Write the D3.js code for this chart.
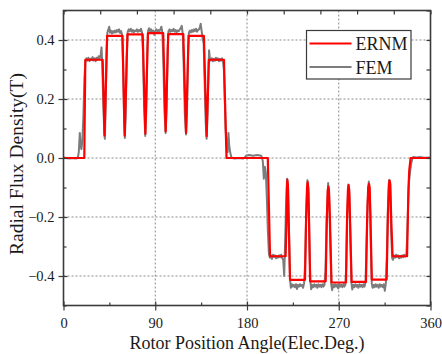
<!DOCTYPE html>
<html>
<head>
<meta charset="utf-8">
<script src="https://cdn.jsdelivr.net/npm/d3@7"></script>
<style>
    body { margin: 0; background: #fff; }
    svg { display: block; }
    text { font-family: "Liberation Serif", "Times New Roman", serif; fill: #1a1a1a; }
</style>
</head>
<body>
<svg id="chart" width="442" height="354"></svg>
<script>
var seriesNames = ['ERNM', 'FEM'];
var xMajorTicks = [0, 90, 180, 270, 360];
var xMinorTicks = [45, 135, 225, 315];
var xTopTicks = [0, 36, 72, 108, 144, 180, 216, 252, 288, 324, 360];
var yMajorTicks = [-0.4, -0.2, 0, 0.2, 0.4];
var yMinorTicks = [-0.5, -0.3, -0.1, 0.1, 0.3, 0.5];
var xTitle = 'Rotor Position Angle(Elec.Deg.)';
var yTitle = 'Radial Flux Density(T)';

// ERNM: [angle, B]
var ernmPoints = [
    [0, 0], [20.4, 0], [21.4, 0.333], [38.4, 0.333], [40.3, 0.076], [42.8, 0.414],
    [57.9, 0.414], [60.0, 0.076], [62.7, 0.419],
    [77.7, 0.419], [80.3, 0.082], [82.8, 0.423],
    [97.8, 0.423], [100.2, 0.09], [102.7, 0.42],
    [117.5, 0.42], [120.2, 0.085], [122.7, 0.414],
    [137.7, 0.414], [140.4, 0.074], [142.6, 0.333],
    [157.4, 0.333], [159.9, 0], [200.4, 0], [202.6, -0.333],
    [217.9, -0.333], [218.8, -0.2], [219.2, -0.1], [219.6, -0.074], [220.1, -0.09], [220.8, -0.2], [222.2, -0.413],
    [236.9, -0.413], [238.0, -0.2], [238.9, -0.1], [239.5, -0.082], [240.1, -0.1], [240.8, -0.2], [241.9, -0.418],
    [257.2, -0.418], [258.4, -0.2], [259.2, -0.11], [259.8, -0.097], [260.4, -0.11], [261.3, -0.2], [262.9, -0.422],
    [277.1, -0.422], [278.2, -0.2], [279.0, -0.11], [279.6, -0.092], [280.3, -0.11], [281.0, -0.2], [282.6, -0.42],
    [296.7, -0.42], [297.9, -0.2], [298.9, -0.1], [299.6, -0.088], [300.3, -0.1], [301.1, -0.2], [302.4, -0.412],
    [317.0, -0.412], [318.2, -0.2], [319.2, -0.09], [319.9, -0.076], [320.6, -0.09], [321.4, -0.2], [322.8, -0.333],
    [337.0, -0.333], [337.8, -0.2], [338.4, -0.1], [339.2, -0.04], [340.5, 0], [360, 0]
];

// FEM: [angle, B]
var femPoints = [
    [0, 0.002], [3, 0], [6, -0.002], [9, 0], [12, -0.002], [14, 0], [15, 0.02], [16, 0.085],
    [16.8, 0.04], [17.6, 0.03], [18.5, 0.06], [19.5, 0.14], [20.5, 0.27], [21.5, 0.325],
    [22.5, 0.338], [23.5, 0.33], [24.5, 0.34], [25.5, 0.328], [26.5, 0.336], [27.5, 0.332],
    [28.5, 0.342], [29.5, 0.33], [30.5, 0.338], [31.5, 0.328], [32.5, 0.34], [33.5, 0.333],
    [34.5, 0.345], [35.5, 0.338], [36.5, 0.35], [37.3, 0.375], [38, 0.32], [39, 0.19],
    [40, 0.08], [40.6, 0.065], [41.3, 0.17], [42.2, 0.36], [43, 0.425], [44, 0.435],
    [44.8, 0.445], [45.6, 0.425], [46.5, 0.432], [47.5, 0.422], [48.5, 0.43], [49.5, 0.425],
    [50.5, 0.432], [51.5, 0.426], [52.5, 0.434], [53.5, 0.428], [54.5, 0.436], [55.5, 0.424],
    [56.5, 0.43], [57.5, 0.418], [58.5, 0.3], [59.5, 0.12], [60.2, 0.068], [61, 0.14],
    [62, 0.34], [63, 0.428], [64, 0.436], [65, 0.43], [66, 0.438], [67, 0.428], [68, 0.434],
    [69, 0.426], [70, 0.432], [71, 0.43], [72, 0.436], [73, 0.428], [74, 0.434], [75, 0.43],
    [76, 0.438], [77, 0.425], [78, 0.36], [79, 0.18], [80.2, 0.075], [81.2, 0.16], [82.2, 0.36],
    [83, 0.432], [84, 0.44], [85, 0.43], [86, 0.436], [87, 0.428], [88, 0.432], [89, 0.418],
    [90, 0.43], [91, 0.436], [92, 0.43], [93, 0.434], [94, 0.428], [95, 0.436], [96, 0.445],
    [97, 0.425], [98, 0.32], [99, 0.16], [100.2, 0.085], [101.2, 0.17], [102.2, 0.37],
    [103, 0.43], [104, 0.436], [105, 0.428], [106, 0.434], [107, 0.43], [108, 0.438],
    [109, 0.428], [110, 0.434], [111, 0.426], [112, 0.432], [113, 0.43], [114, 0.436],
    [115, 0.44], [116, 0.448], [117, 0.42], [118, 0.3], [119, 0.15], [120.2, 0.08],
    [121.2, 0.16], [122.2, 0.36], [123, 0.425], [124, 0.432], [125, 0.426], [126, 0.434],
    [127, 0.428], [128, 0.436], [129, 0.43], [130, 0.438], [131, 0.428], [132, 0.434],
    [133, 0.436], [133.8, 0.444], [134.6, 0.455], [135.5, 0.43], [136.5, 0.405], [137.5, 0.39],
    [138.5, 0.25], [139.5, 0.12], [140.4, 0.065], [141.3, 0.15], [142.2, 0.3], [142.8, 0.365],
    [143.5, 0.34], [144.5, 0.33], [145.5, 0.338], [146.5, 0.328], [147.5, 0.336], [148.5, 0.33],
    [149.5, 0.34], [150.5, 0.332], [151.5, 0.338], [152.5, 0.328], [153.5, 0.336], [154.5, 0.33],
    [155.5, 0.338], [156.5, 0.326], [157.3, 0.3], [158.2, 0.2], [159, 0.1], [160, 0.04],
    [161, 0.02], [161.8, 0.085], [162.6, 0.04], [163.5, 0.02], [164.5, 0.005], [165.5, 0],
    [168, -0.002], [172, 0], [176, -0.002], [178, 0.002], [179, 0.008], [182, 0.01],
    [186, 0.008], [190, 0.01], [194, 0.008], [195.5, -0.01], [196.5, -0.07], [197.5, -0.03],
    [198.5, -0.05], [199.5, -0.14], [200.5, -0.25], [201.5, -0.325], [202.5, -0.338],
    [203.5, -0.33], [204.5, -0.342], [205.5, -0.328], [206.5, -0.335], [207.5, -0.33],
    [208.5, -0.34], [209.5, -0.332], [210.5, -0.338], [211.5, -0.33], [212.5, -0.336],
    [213.5, -0.328], [214.5, -0.34], [215.5, -0.345], [216.5, -0.4], [217.3, -0.3],
    [218.3, -0.16], [219.3, -0.07], [220.3, -0.1], [221.2, -0.25], [222.2, -0.41],
    [223, -0.44], [224, -0.428], [225, -0.436], [226, -0.43], [227, -0.438], [228, -0.428],
    [229, -0.444], [230, -0.43], [231, -0.436], [232, -0.428], [233, -0.434], [234, -0.43],
    [235, -0.44], [236, -0.425], [237, -0.36], [238, -0.2], [239.3, -0.075], [240.3, -0.12],
    [241.3, -0.3], [242.2, -0.42], [243, -0.445], [244, -0.43], [245, -0.438], [246, -0.428],
    [247, -0.436], [248, -0.43], [249, -0.44], [250, -0.428], [251, -0.436], [252, -0.43],
    [253, -0.438], [254, -0.428], [255, -0.436], [256, -0.43], [257, -0.38], [258, -0.22],
    [259.6, -0.085], [260.6, -0.13], [261.8, -0.3], [262.7, -0.43], [263.5, -0.448],
    [264.5, -0.43], [265.5, -0.438], [266.5, -0.428], [267.5, -0.436], [268.5, -0.43],
    [269.5, -0.442], [270.5, -0.428], [271.5, -0.436], [272.5, -0.43], [273.5, -0.438],
    [274.5, -0.428], [275.5, -0.436], [276.5, -0.43], [277.3, -0.37], [278.2, -0.2],
    [279.5, -0.09], [280.5, -0.13], [281.6, -0.3], [282.5, -0.425], [283.3, -0.446],
    [284.3, -0.43], [285.3, -0.438], [286.3, -0.428], [287.3, -0.436], [288.3, -0.43],
    [289.3, -0.44], [290.3, -0.428], [291.3, -0.436], [292.3, -0.43], [293.3, -0.438],
    [294.3, -0.428], [295.3, -0.436], [296.3, -0.42], [297.2, -0.3], [298.3, -0.15],
    [299.5, -0.08], [300.5, -0.12], [301.5, -0.3], [302.4, -0.425], [303.2, -0.44],
    [304.2, -0.43], [305.2, -0.438], [306.2, -0.428], [307.2, -0.436], [308.2, -0.43],
    [309.2, -0.44], [310.2, -0.428], [311.2, -0.436], [312.2, -0.43], [313.2, -0.438],
    [314.2, -0.428], [315.2, -0.45], [316.2, -0.425], [317.2, -0.33], [318.2, -0.17],
    [319.4, -0.075], [320.4, -0.11], [321.4, -0.25], [322.4, -0.34], [323.2, -0.345],
    [324.2, -0.33], [325.2, -0.338], [326.2, -0.328], [327.2, -0.336], [328.2, -0.33],
    [329.2, -0.34], [330.2, -0.332], [331.2, -0.338], [332.2, -0.33], [333.2, -0.336],
    [334.2, -0.328], [335.2, -0.334], [336.3, -0.33], [337.2, -0.26], [338.2, -0.14],
    [339, -0.08], [340, -0.045], [341, -0.02], [342, -0.005], [343, 0.003], [346, 0.002],
    [350, 0.003], [354, 0.001], [360, 0.002]
];

var chart = {
    width: 442,
    height: 354,
    left: 63.5,
    right: 430.5,
    top: 10.5,
    bottom: 305.5,

    render: function () {
        this.svg = d3.select('#chart');
        this.x = d3.scaleLinear().domain([0, 360]).range([this.left, this.right]);
        this.y = d3.scaleLinear().domain([-0.5, 0.5]).range([this.bottom, this.top]);
        this.renderGrid();
        this.renderLines();
        this.renderAxes();
        this.renderLegend();
        this.renderTitles();
    },

    renderGrid: function () {
        var x = this.x, y = this.y;
        var grid = this.svg.append('g').attr('class', 'grid')
            .attr('stroke', '#8a8a8a').attr('stroke-width', 1).attr('stroke-dasharray', '2,2');

        grid.selectAll('line.gx')
            .data(xMajorTicks.slice(1, -1))
            .enter().append('line')
            .attr('class', 'gx')
            .attr('x1', x).attr('x2', x)
            .attr('y1', this.top).attr('y2', this.bottom);

        grid.selectAll('line.gy')
            .data(yMajorTicks)
            .enter().append('line')
            .attr('class', 'gy')
            .attr('x1', this.left).attr('x2', this.right)
            .attr('y1', y).attr('y2', y);
    },

    renderLines: function () {
        var x = this.x, y = this.y;
        var line = d3.line()
            .x(function (d) { return x(d[0]); })
            .y(function (d) { return y(d[1]); });

        this.svg.append('path')
            .datum(femPoints)
            .attr('fill', 'none')
            .attr('stroke', '#7c7c7c')
            .attr('stroke-width', 2)
            .attr('stroke-linejoin', 'round')
            .attr('d', line);

        this.svg.append('path')
            .datum(ernmPoints)
            .attr('fill', 'none')
            .attr('stroke', '#ff0000')
            .attr('stroke-width', 2.2)
            .attr('stroke-linejoin', 'round')
            .attr('d', line);
    },

    renderAxes: function () {
        var x = this.x, y = this.y, svg = this.svg;
        var frame = '#3a3a3a';

        function styleAxis(g) {
            g.select('.domain').remove();
            g.selectAll('.tick line').attr('stroke', frame).attr('stroke-width', 1.2);
            g.selectAll('.tick text').attr('fill', '#1a1a1a').attr('font-size', '14.5px')
                .attr('font-family', '"Liberation Serif", "Times New Roman", serif');
        }

        // bottom
        svg.append('g').attr('transform', 'translate(0,' + this.bottom + ')')
            .call(d3.axisBottom(x).tickValues(xMajorTicks).tickFormat(d3.format('d'))
                .tickSizeInner(5).tickPadding(7))
            .call(styleAxis);
        svg.append('g').attr('transform', 'translate(0,' + this.bottom + ')')
            .call(d3.axisBottom(x).tickValues(xMajorTicks).tickFormat('').tickSizeInner(-4))
            .call(styleAxis);
        svg.append('g').attr('transform', 'translate(0,' + this.bottom + ')')
            .call(d3.axisBottom(x).tickValues(xMinorTicks).tickFormat('').tickSizeInner(-3))
            .call(styleAxis);

        // left
        svg.append('g').attr('transform', 'translate(' + this.left + ',0)')
            .call(d3.axisLeft(y).tickValues(yMajorTicks).tickFormat(d3.format('.1f'))
                .tickSizeInner(5).tickPadding(4))
            .call(styleAxis);
        svg.append('g').attr('transform', 'translate(' + this.left + ',0)')
            .call(d3.axisLeft(y).tickValues(yMajorTicks).tickFormat('').tickSizeInner(-4))
            .call(styleAxis);
        svg.append('g').attr('transform', 'translate(' + this.left + ',0)')
            .call(d3.axisLeft(y).tickValues(yMinorTicks).tickFormat('').tickSizeInner(-3))
            .call(styleAxis);

        // top, right: inward ticks only
        svg.append('g').attr('transform', 'translate(0,' + this.top + ')')
            .call(d3.axisTop(x).tickValues(xTopTicks).tickFormat('').tickSizeInner(-4))
            .call(styleAxis);
        svg.append('g').attr('transform', 'translate(' + this.right + ',0)')
            .call(d3.axisRight(y).tickValues(yMajorTicks.concat(yMinorTicks)).tickFormat('').tickSizeInner(-4))
            .call(styleAxis);

        svg.append('rect')
            .attr('x', this.left).attr('y', this.top)
            .attr('width', this.right - this.left).attr('height', this.bottom - this.top)
            .attr('fill', 'none').attr('stroke', frame).attr('stroke-width', 1.6);
    },

    renderLegend: function () {
        var colors = ['#ff0000', '#7c7c7c'];
        var legend = this.svg.append('g').attr('transform', 'translate(306.5,30.5)');

        legend.append('rect')
            .attr('width', 104.5).attr('height', 48.5)
            .attr('fill', '#fff').attr('stroke', '#3a3a3a').attr('stroke-width', 1.2);

        var item = legend.selectAll('g.item')
            .data(seriesNames)
            .enter().append('g')
            .attr('class', 'item')
            .attr('transform', function (d, i) { return 'translate(0,' + (13 + i * 23.5) + ')'; });

        item.append('line')
            .attr('x1', 3).attr('x2', 45)
            .attr('stroke', function (d, i) { return colors[i]; })
            .attr('stroke-width', 2.2);

        item.append('text')
            .attr('x', 49).attr('y', 6.5)
            .attr('font-size', '18px')
            .text(function (d) { return d; });
    },

    renderTitles: function () {
        this.svg.append('text')
            .attr('x', (this.left + this.right) / 2).attr('y', 349)
            .attr('text-anchor', 'middle')
            .attr('font-size', '18px')
            .text(xTitle);

        this.svg.append('text')
            .attr('transform', 'translate(23,' + ((this.top + this.bottom) / 2 + 6) + ') rotate(-90)')
            .attr('text-anchor', 'middle')
            .attr('font-size', '19.5px')
            .text(yTitle);
    }
};

chart.render();
</script>
</body>
</html>
